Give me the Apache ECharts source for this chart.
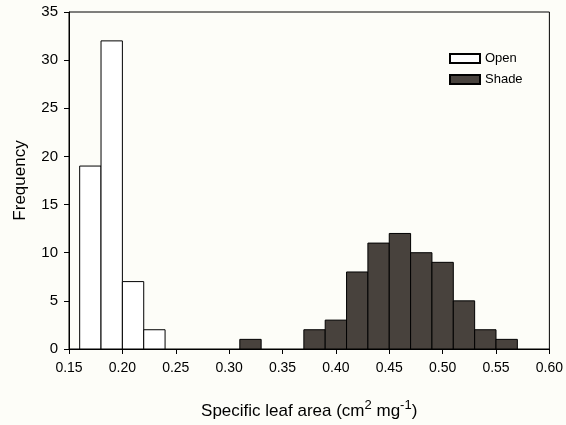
<!DOCTYPE html>
<html>
<head>
<meta charset="utf-8">
<script src="https://cdn.jsdelivr.net/npm/echarts@6/dist/echarts.min.js"></script>
<style>
  html, body { margin: 0; padding: 0; background: #fdfdf8; }
  #chart { width: 566px; height: 425px; }
</style>
</head>
<body>
<div id="chart"></div>
<script>
// histogram bins: left edge of each bin and its count
const binWidth = 0.02;
const openBinStart = [0.16, 0.18, 0.20, 0.22];
const openCounts = [19, 32, 7, 2];
const shadeBinStart = [0.31, 0.37, 0.39, 0.41, 0.43, 0.45, 0.47, 0.49, 0.51, 0.53, 0.55];
const shadeCounts = [1, 2, 3, 8, 11, 12, 10, 9, 5, 2, 1];

const font = 'Liberation Sans, Arial, sans-serif';

function toBins(starts, counts) {
    return starts.map((s, i) => [s, s + binWidth, counts[i]]);
}

function renderBar(params, api) {
    const p0 = api.coord([api.value(0), api.value(2)]);
    const p1 = api.coord([api.value(1), 0]);
    return {
        type: 'rect',
        shape: { x: p0[0], y: p0[1], width: p1[0] - p0[0], height: p1[1] - p0[1] },
        style: api.style()
    };
}

const chart = echarts.init(document.getElementById('chart'));

chart.setOption({
    animation: false,
    backgroundColor: '#fdfdf8',
    grid: {
        left: 69, right: 11, top: 12, bottom: 74,
        show: true, borderColor: '#000', borderWidth: 1
    },
    legend: {
        orient: 'vertical',
        left: 444, top: 47,
        icon: 'rect',
        itemWidth: 30, itemHeight: 9, itemGap: 8,
        textStyle: { fontFamily: font, fontSize: 13, color: '#000' },
        data: ['Open', 'Shade']
    },
    xAxis: {
        type: 'value',
        min: 0.15, max: 0.60, interval: 0.05,
        name: 'Specific leaf area (cm{sup|2} mg{sup|-1})',
        nameLocation: 'middle',
        nameGap: 50,
        nameTextStyle: {
            fontFamily: font, fontSize: 17, color: '#000',
            rich: {
                sup: { fontFamily: font, fontSize: 13, color: '#000', verticalAlign: 'top', padding: [0, 0, 12, 0] }
            }
        },
        axisLine: { lineStyle: { color: '#000', width: 1 } },
        axisTick: { length: 5, lineStyle: { color: '#000' } },
        axisLabel: {
            fontFamily: font, fontSize: 14, color: '#000', margin: 12,
            formatter: v => v.toFixed(2)
        },
        splitLine: { show: false }
    },
    yAxis: {
        type: 'value',
        min: 0, max: 35, interval: 5,
        name: 'Frequency',
        nameLocation: 'middle',
        nameGap: 40,
        nameTextStyle: { fontFamily: font, fontSize: 17, color: '#000' },
        axisLine: { show: true, lineStyle: { color: '#000', width: 1 } },
        axisTick: { show: true, length: 5, lineStyle: { color: '#000' } },
        axisLabel: { fontFamily: font, fontSize: 15, color: '#000', margin: 11 },
        splitLine: { show: false }
    },
    series: [
        {
            name: 'Open',
            type: 'custom',
            renderItem: renderBar,
            encode: { x: [0, 1], y: 2 },
            itemStyle: { color: '#ffffff', borderColor: '#000', borderWidth: 1 },
            data: toBins(openBinStart, openCounts)
        },
        {
            name: 'Shade',
            type: 'custom',
            renderItem: renderBar,
            encode: { x: [0, 1], y: 2 },
            itemStyle: { color: '#48423d', borderColor: '#000', borderWidth: 1 },
            data: toBins(shadeBinStart, shadeCounts)
        }
    ]
});
</script>
</body>
</html>
